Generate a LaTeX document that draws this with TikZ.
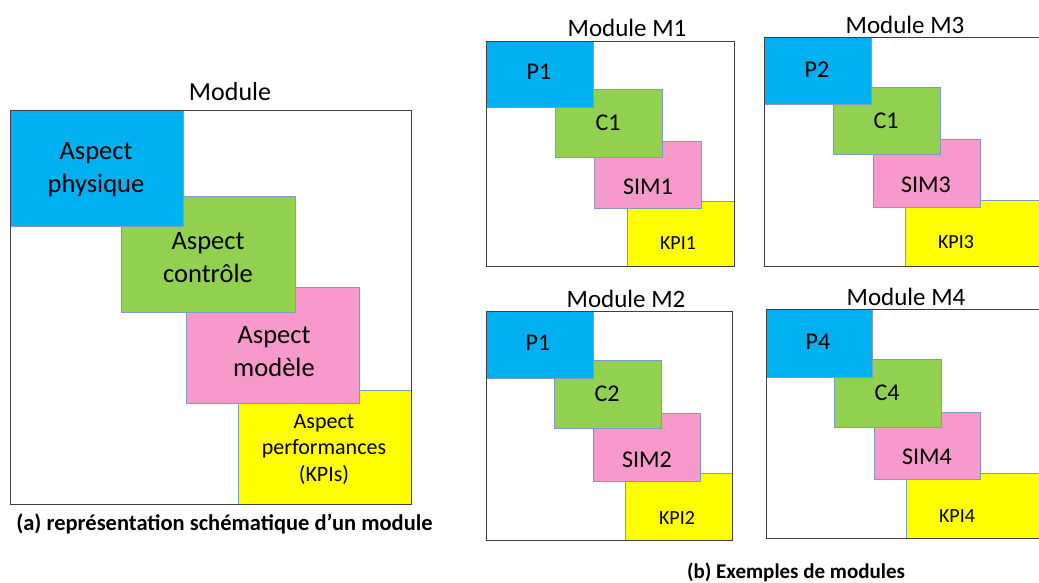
\documentclass[tikz,border=0pt]{standalone}
\usepackage{fontspec}
\setmainfont{Carlito}
\usetikzlibrary{fit}
\definecolor{cblue}{HTML}{00B0F0}
\definecolor{cgreen}{HTML}{92D050}
\definecolor{cpink}{HTML}{F799CA}
\definecolor{cyel}{HTML}{FFFF00}
\definecolor{cedge}{HTML}{7F9CC0}
\definecolor{cframe}{HTML}{404040}
\tikzset{
  bx/.style={draw=cedge, line width=0.8pt, inner sep=0pt},
  outerframe/.style={draw=cframe, line width=1pt, inner sep=0pt},
  bigtxt/.style={font=\fontsize{26.5}{33}\selectfont, align=center, inner sep=0pt},
  midtxt/.style={font=\fontsize{22}{26.5}\selectfont, align=center, inner sep=0pt},
  ttltxt/.style={font=\fontsize{25}{30}\selectfont, inner sep=0pt},
  smtxt/.style={font=\fontsize{24}{29}\selectfont, inner sep=0pt},
  kptxt/.style={font=\fontsize{20}{24}\selectfont, inner sep=0pt},
  captxt/.style={font=\bfseries\fontsize{22.5}{26}\selectfont, inner sep=0pt},
}
\begin{document}
\begin{tikzpicture}[x=1pt,y=-1pt]
\useasboundingbox (0,0) rectangle (1039,582);
\clip (0,0) rectangle (1039,582);
\fill[white] (0,0) rectangle (1039,582);
% ---------- (a) ----------
\node[bx, fill=cyel, fit={(238,390)(411,504)}] (ay) {};
\node[bx, fill=cpink, fit={(186,287)(359,403)}] (ap) {};
\node[bx, fill=cgreen, fit={(121,196)(295,312)}] (ag) {};
\node[bx, fill=cblue, fit={(10,110)(183,226)}] (ab) {};
\node[outerframe, fit={(10,110)(411,504)}] (aout) {};
\node[ttltxt, font=\fontsize{26}{30}\selectfont] (atl) at (230,92) {Module};
\node[bigtxt] (abt) at (96,170) {Aspect\\physique};
\node[bigtxt] (agt) at (208,258) {Aspect\\contrôle};
\node[bigtxt] (apt) at (274,352) {Aspect\\modèle};
\node[midtxt] (ayt) at (324,449) {Aspect\\performances\\(KPIs)};
\node[captxt] (acap) at (224.5,524) {(a) représentation schématique d’un module};
% ---------- M1 ----------
\node[bx, fill=cyel, fit={(627,201)(734,266)}] (m1y) {};
\node[bx, fill=cpink, fit={(594,141)(701,208)}] (m1p) {};
\node[bx, fill=cgreen, fit={(555,89)(662,157)}] (m1g) {};
\node[bx, fill=cblue, fit={(486,41)(593,107)}] (m1b) {};
\node[outerframe, fit={(486,41)(734,266)}] (m1o) {};
\node[ttltxt] (m1t) at (627,28) {Module M1};
\node[smtxt] (m1bt) at (539,72) {P1};
\node[smtxt] (m1gt) at (608,123) {C1};
\node[smtxt] (m1pt) at (648,187) {SIM1};
\node[kptxt] (m1yt) at (678,243) {KPI1};
% ---------- M3 ----------
\node[bx, fill=cyel, fit={(905,200)(1050,266)}] (m3y) {};
\node[bx, fill=cpink, fit={(873,139)(980,207)}] (m3p) {};
\node[bx, fill=cgreen, fit={(833,87)(940,154)}] (m3g) {};
\node[bx, fill=cblue, fit={(764,37)(871,104)}] (m3b) {};
\node[outerframe, fit={(764,37)(1050,266)}] (m3o) {};
\node[ttltxt] (m3t) at (905,25) {Module M3};
\node[smtxt] (m3bt) at (817,70) {P2};
\node[smtxt] (m3gt) at (886,121) {C1};
\node[smtxt] (m3pt) at (926,185) {SIM3};
\node[kptxt] (m3yt) at (956,242) {KPI3};
% ---------- M2 ----------
\node[bx, fill=cyel, fit={(625,473)(732,540)}] (m2y) {};
\node[bx, fill=cpink, fit={(593,413)(700,481)}] (m2p) {};
\node[bx, fill=cgreen, fit={(554,360)(661,428)}] (m2g) {};
\node[bx, fill=cblue, fit={(486,311)(593,378)}] (m2b) {};
\node[outerframe, fit={(486,311)(732,540)}] (m2o) {};
\node[ttltxt] (m2t) at (626,299) {Module M2};
\node[smtxt] (m2bt) at (538,343) {P1};
\node[smtxt] (m2gt) at (607,394) {C2};
\node[smtxt] (m2pt) at (647,460) {SIM2};
\node[kptxt] (m2yt) at (677,518) {KPI2};
% ---------- M4 ----------
\node[bx, fill=cyel, fit={(906,473)(1050,538)}] (m4y) {};
\node[bx, fill=cpink, fit={(874,412)(980,479)}] (m4p) {};
\node[bx, fill=cgreen, fit={(834,359)(941,427)}] (m4g) {};
\node[bx, fill=cblue, fit={(766,309)(872,377)}] (m4b) {};
\node[outerframe, fit={(766,309)(1050,538)}] (m4o) {};
\node[ttltxt] (m4t) at (906,297) {Module M4};
\node[smtxt] (m4bt) at (818,342) {P4};
\node[smtxt] (m4gt) at (887,393) {C4};
\node[smtxt] (m4pt) at (927,457) {SIM4};
\node[kptxt] (m4yt) at (957,516) {KPI4};
\node[captxt, font=\bfseries\fontsize{21}{25}\selectfont] (bcap) at (796,572) {(b) Exemples de modules};
\end{tikzpicture}
\end{document}
